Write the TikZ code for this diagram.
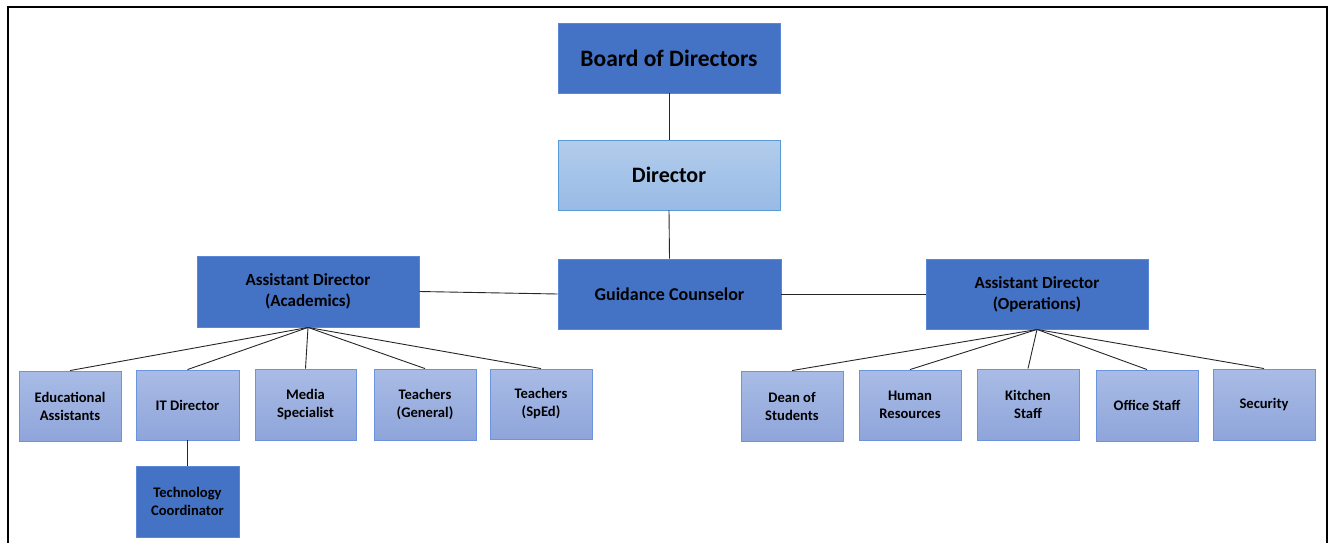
\documentclass[tikz,border=0pt]{standalone}
\usepackage{fontspec}
\setmainfont{Carlito}
\usetikzlibrary{positioning}
\definecolor{darkb}{HTML}{4472C4}
\definecolor{darkbd}{HTML}{5A88D6}
\definecolor{lightt}{HTML}{A9BCE6}
\definecolor{lightb}{HTML}{8FA5DA}
\definecolor{lightbd}{HTML}{6C93DE}
\definecolor{dirt}{HTML}{B2CDEC}
\definecolor{dirb}{HTML}{98BAE5}
\definecolor{dirbd}{HTML}{5B9BD5}
\tikzset{
  box/.style={draw, line width=0.9pt, align=center, inner sep=0pt, font=\bfseries},
  darkbox/.style={box, draw=darkbd, fill=darkb},
  lightbox/.style={box, draw=lightbd, top color=lightt, bottom color=lightb},
  link/.style={draw=black!85, line width=0.9pt},
}
\newcommand{\bx}[7]{% name, style, x1, y1, x2, y2, text
  \node[#2, minimum width={(#5-#3)*1pt}, minimum height={(#6-#4)*1pt}] (#1) at ({(#3+#5)/2},{(#4+#6)/2}) {#7};}
\begin{document}
\begin{tikzpicture}[x=1pt,y=-1pt]
\useasboundingbox (0,0) rectangle (1333,543);
\draw[line width=2pt] (8,543) -- (8,7) -- (1327,7) -- (1327,543);
% top chain
\bx{board}{darkbox, font=\bfseries\fontsize{23.5}{26}\selectfont}{558}{23}{780}{93}{Board of Directors}
\bx{dir}{box, draw=dirbd, top color=dirt, bottom color=dirb, font=\bfseries\fontsize{22}{24}\selectfont}{558}{140}{780}{210}{Director}
\bx{gc}{darkbox, font=\bfseries\fontsize{18}{20}\selectfont}{558}{259}{781}{329}{Guidance Counselor}
\bx{ada}{darkbox, font=\bfseries\fontsize{17}{21}\selectfont}{197}{256}{419}{327}{Assistant Director\\(Academics)}
\bx{ado}{darkbox, font=\bfseries\fontsize{17}{21}\selectfont}{926}{259}{1148}{329}{Assistant Director\\(Operations)}
% academics children
\tikzset{small/.style={font=\bfseries\fontsize{14.6}{18}\selectfont}}
\bx{ea}{lightbox, small}{19}{371}{121}{441}{Educational\\Assistants}
\bx{itd}{lightbox, small}{136}{370}{239}{440}{IT Director}
\bx{ms}{lightbox, small}{255}{369}{356}{440}{Media\\Specialist}
\bx{tg}{lightbox, small}{374}{369}{476}{440}{Teachers\\(General)}
\bx{ts}{lightbox, small}{490}{369}{592}{439}{Teachers\\(SpEd)}
\bx{tc}{darkbox, small}{136}{466}{239}{537}{Technology\\Coordinator}
% operations children
\bx{dean}{lightbox, small}{741}{371}{843}{441}{Dean of\\Students}
\bx{hr}{lightbox, small}{859}{370}{961}{440}{Human\\Resources}
\bx{ks}{lightbox, small}{977}{369}{1079}{440}{Kitchen\\Staff}
\bx{os}{lightbox, small}{1096}{370}{1198}{441}{Office Staff}
\bx{sec}{lightbox, small}{1213}{369}{1315}{440}{Security}
% links
\draw[link] (board.south) -- (dir.north);
\draw[link] (dir.south) -- (gc.north);
\draw[link] (ada.east) -- (gc.west);
\draw[link] (gc.east) -- (ado.west);
\foreach \c in {ea,itd,ms,tg,ts} \draw[link] (ada.south) -- (\c.north);
\foreach \c in {dean,hr,ks,os,sec} \draw[link] (ado.south) -- (\c.north);
\draw[link] (itd.south) -- (tc.north);
\end{tikzpicture}
\end{document}
